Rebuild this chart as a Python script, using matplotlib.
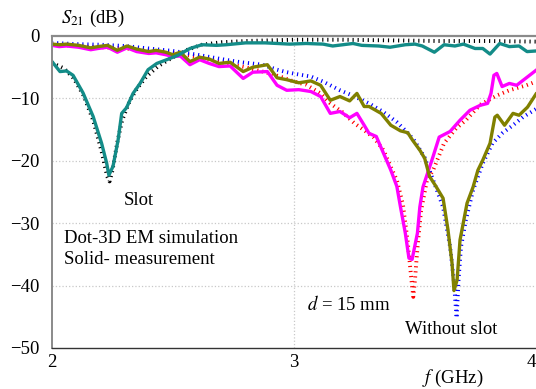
import numpy as np
import matplotlib
matplotlib.use("Agg")
import matplotlib.pyplot as plt

plt.rcParams['font.family'] = ['Liberation Serif', 'DejaVu Serif']
plt.rcParams['mathtext.fontset'] = 'stix'

# slot, measurement (teal) and 3D EM simulation (black dots)
f_slot_meas = [2.0, 2.033, 2.06, 2.087, 2.128, 2.17, 2.205, 2.226, 2.235, 2.252, 2.273, 2.288,
               2.308, 2.335, 2.364, 2.397, 2.433, 2.474, 2.52, 2.57, 2.62, 2.68, 2.72, 2.80, 2.88,
               2.983, 3.05, 3.12, 3.16, 3.244, 3.28, 3.35, 3.397, 3.46, 3.50, 3.53, 3.58, 3.62,
               3.665, 3.70, 3.748, 3.78, 3.81, 3.85, 3.89, 3.93, 3.963, 4.0]
s_slot_meas = [-4.1, -5.7, -5.6, -6.3, -9.1, -12.9, -17.2, -20.4, -22.3, -20.9, -16.7, -12.4,
               -11.5, -9.2, -7.6, -5.4, -4.4, -3.8, -3.1, -2.0, -1.4, -1.5, -1.4, -1.1, -1.1,
               -1.3, -1.2, -1.3, -1.6, -1.2, -1.5, -1.6, -1.8, -1.4, -1.3, -1.6, -2.6, -1.4,
               -1.6, -1.3, -2.0, -2.0, -2.9, -1.2, -1.7, -1.6, -2.5, -2.4]

f_slot_sim = [2.0, 2.05, 2.09, 2.13, 2.17, 2.205, 2.228, 2.238, 2.25, 2.27, 2.29, 2.32, 2.35,
              2.39, 2.44, 2.5, 2.56, 2.62, 2.7, 2.8, 2.9, 3.0, 3.2, 3.4, 3.6, 3.8, 4.0]
s_slot_sim = [-4.3, -5.2, -6.8, -9.5, -13.5, -18.5, -22.5, -23.3, -21.5, -17.0, -13.5, -10.5,
              -8.5, -6.5, -4.8, -3.4, -2.2, -1.4, -1.0, -0.8, -0.7, -0.6, -0.6, -0.7, -0.8,
              -0.8, -0.9]

# d = 15 mm, measurement (magenta) and simulation (red dots)
f_d15_meas = [2.0, 2.03, 2.06, 2.11, 2.16, 2.19, 2.23, 2.27, 2.31, 2.35, 2.40, 2.43, 2.47, 2.50,
              2.53, 2.57, 2.61, 2.65, 2.69, 2.736, 2.79, 2.83, 2.89, 2.93, 2.97, 3.02, 3.07,
              3.11, 3.15, 3.19, 3.23, 3.26, 3.29, 3.31, 3.34, 3.37, 3.40, 3.425, 3.44, 3.46,
              3.475, 3.488, 3.51, 3.52, 3.533, 3.574, 3.60, 3.645, 3.686, 3.727, 3.77, 3.80,
              3.814, 3.826, 3.838, 3.86, 3.89, 3.92, 3.96, 4.0]
s_d15_meas = [-1.5, -1.7, -1.6, -1.8, -2.2, -2.0, -1.8, -2.6, -1.9, -2.5, -2.8, -2.7, -3.0, -3.3,
              -3.2, -4.6, -3.8, -4.4, -4.9, -4.8, -6.8, -5.8, -5.7, -7.9, -8.7, -8.6, -8.9,
              -9.7, -12.4, -12.1, -13.1, -12.4, -14.3, -15.6, -16.1, -18.8, -21.5, -24.1, -27.4,
              -31.6, -35.6, -35.8, -31.6, -27.4, -24.2, -19.4, -16.2, -15.3, -13.5, -11.9, -11.1,
              -10.8, -9.2, -6.3, -6.0, -8.1, -7.6, -7.9, -6.7, -5.5]

f_d15_sim = [2.0, 2.1, 2.2, 2.3, 2.4, 2.5, 2.6, 2.7, 2.8, 2.9, 2.95, 3.0, 3.05, 3.11, 3.15, 3.2,
             3.25, 3.29, 3.33, 3.37, 3.40, 3.425, 3.45, 3.47, 3.485, 3.493, 3.50, 3.51, 3.525,
             3.55, 3.575, 3.62, 3.67, 3.71, 3.77, 3.84, 3.89, 3.96, 4.0]
s_d15_sim = [-1.3, -1.6, -1.8, -2.0, -2.3, -2.7, -3.3, -4.2, -5.0, -6.0, -6.6, -7.3, -7.8, -9.2,
             -10.8, -12.2, -14.0, -15.1, -16.3, -18.3, -21.0, -23.1, -27.0, -33.0, -39.0, -41.8,
             -39.0, -34.0, -28.0, -23.0, -21.5, -17.2, -14.8, -13.5, -11.0, -9.5, -8.7, -7.9, -7.3]

# without slot, measurement (olive) and simulation (blue dots)
f_noslot_meas = [2.0, 2.03, 2.06, 2.11, 2.16, 2.19, 2.23, 2.27, 2.31, 2.35, 2.40, 2.43, 2.47,
                 2.50, 2.53, 2.57, 2.61, 2.65, 2.69, 2.736, 2.79, 2.83, 2.89, 2.93, 2.97, 3.02,
                 3.07, 3.11, 3.15, 3.19, 3.23, 3.26, 3.29, 3.31, 3.36, 3.40, 3.44, 3.47, 3.49,
                 3.52, 3.54, 3.56, 3.585, 3.616, 3.636, 3.653, 3.661, 3.674, 3.686, 3.715, 3.74,
                 3.76, 3.78, 3.81, 3.83, 3.84, 3.87, 3.905, 3.93, 3.965, 4.0]
s_noslot_meas = [-1.3, -1.4, -1.3, -1.5, -1.9, -1.7, -1.5, -2.3, -1.6, -2.1, -2.5, -2.3, -2.6,
                 -3.0, -2.6, -4.1, -3.4, -3.7, -4.4, -4.2, -5.7, -5.0, -4.6, -6.7, -7.0, -7.5,
                 -7.2, -7.9, -10.3, -9.7, -10.4, -9.2, -11.3, -11.3, -12.4, -14.3, -15.2, -15.5,
                 -16.7, -18.3, -19.6, -22.5, -24.0, -26.0, -31.0, -36.4, -40.8, -39.1, -32.7,
                 -26.8, -24.2, -21.5, -19.9, -17.2, -13.0, -12.7, -14.3, -12.4, -12.7, -11.4, -9.3]

f_noslot_sim = [2.0, 2.1, 2.2, 2.3, 2.4, 2.5, 2.6, 2.7, 2.78, 2.87, 2.93, 2.97, 3.01, 3.07, 3.12,
                3.15, 3.19, 3.24, 3.31, 3.37, 3.425, 3.467, 3.50, 3.54, 3.58, 3.616, 3.645, 3.66,
                3.672, 3.68, 3.69, 3.71, 3.74, 3.78, 3.82, 3.86, 3.905, 3.946, 4.0]
s_noslot_sim = [-1.1, -1.3, -1.4, -1.6, -2.0, -2.4, -3.0, -3.7, -4.2, -4.6, -5.4, -5.8, -6.1,
                -6.5, -7.3, -7.9, -8.7, -9.5, -10.8, -12.2, -13.8, -15.4, -16.9, -19.5, -23.6,
                -27.4, -33.8, -39.0, -45.2, -39.0, -33.8, -29.5, -24.7, -20.4, -17.2, -15.6,
                -14.3, -13.0, -11.7]

fig = plt.figure(figsize=(5.36, 3.89), dpi=100)
ax = fig.add_axes([52/536, 1 - 348/389, 484/536, 312/389])

dots = (0, (0.3, 1.0))
ax.plot(f_slot_sim, s_slot_sim, color='black', lw=2.8, ls=dots)
ax.plot(f_d15_sim, s_d15_sim, color='red', lw=2.8, ls=dots)
ax.plot(f_noslot_sim, s_noslot_sim, color='blue', lw=2.8, ls=dots)

ax.plot(f_d15_meas, s_d15_meas, color='#ff00ff', lw=2.4)
ax.plot(f_noslot_meas, s_noslot_meas, color='#808000', lw=2.4)
ax.plot(f_slot_meas, s_slot_meas, color='#138c88', lw=2.4)

ax.set_xlim(2, 4)
ax.set_ylim(-50, 0)
ax.set_xticks([2, 3, 4])
ax.set_xticklabels(['2', '3', '4'])
ax.get_xticklabels()[-1].set_horizontalalignment('right')
ax.set_yticks([0, -10, -20, -30, -40, -50])
ax.set_yticklabels(['0', '\u221210', '\u221220', '\u221230', '\u221240', '\u221250'])
ax.tick_params(length=0, labelsize=13.5)
ax.tick_params(axis='y', pad=9)
ax.tick_params(axis='x', pad=4)

for y in [-10, -20, -30, -40]:
    ax.axhline(y, color='#c8c8c8', lw=0.9, ls=':', zorder=0)
ax.axvline(3, color='#c8c8c8', lw=0.9, ls=':', zorder=0)

ax.spines['right'].set_visible(False)
ax.spines['top'].set_color('#8a8a8a')
ax.spines['top'].set_linewidth(1.6)
ax.spines['left'].set_color('#8a8a8a')
ax.spines['left'].set_linewidth(1.4)
ax.spines['bottom'].set_color('#333333')
ax.spines['bottom'].set_linewidth(1.0)

fs = 13.5
ax.text(2.36, -26.3, 'Slot', fontsize=fs, ha='center', va='center')
ax.text(2.05, -32.4, 'Dot-3D EM simulation', fontsize=fs, ha='left', va='center')
ax.text(2.05, -35.8, 'Solid- measurement', fontsize=fs, ha='left', va='center')
ax.text(3.054, -43.0, '$d$ = 15 mm', fontsize=fs, ha='left', va='center')
ax.text(3.459, -47.1, 'Without slot', fontsize=fs, ha='left', va='center')

fig.text(61/536, 1 - 18/389, '$S_{21}$ (dB)', fontsize=fs, ha='left', va='center')
fig.text(422/536, 1 - 378/389, '$f$ (GHz)', fontsize=fs, ha='left', va='center')

fig.savefig('out.png', dpi=100)
